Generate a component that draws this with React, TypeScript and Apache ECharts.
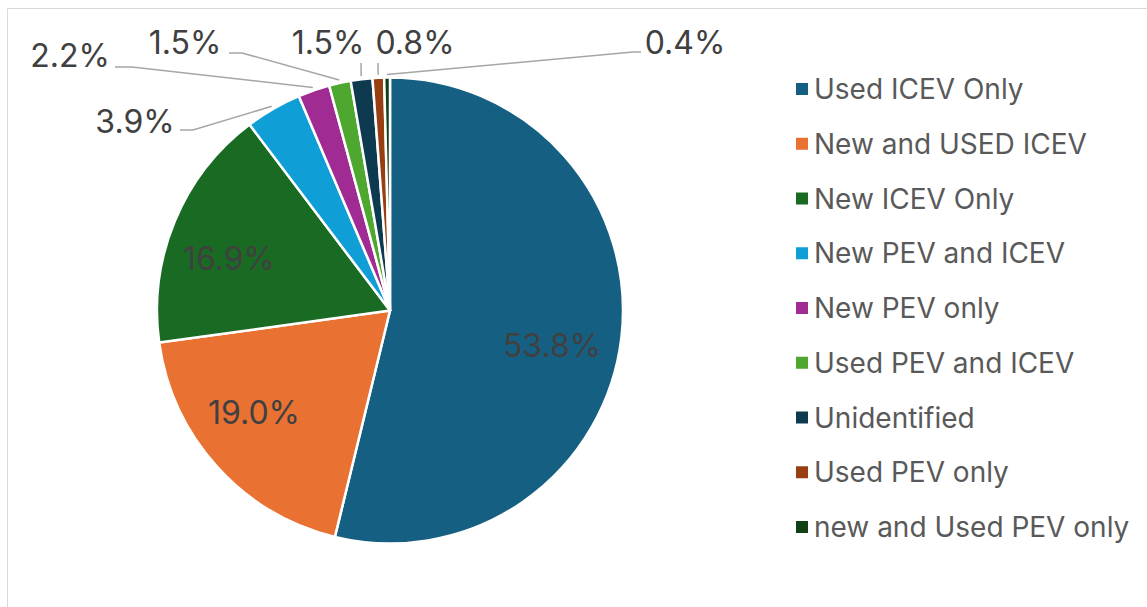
import React, { useEffect, useRef } from "react";
import * as echarts from "echarts";

const categories = [
  "Used ICEV Only",
  "New and USED ICEV",
  "New ICEV Only",
  "New PEV and ICEV",
  "New PEV only",
  "Used PEV and ICEV",
  "Unidentified",
  "Used PEV only",
  "new and Used PEV only",
];
const shares = [53.8, 19.0, 16.9, 3.9, 2.2, 1.5, 1.5, 0.8, 0.4];
const colors = [
  "#156082",
  "#E97132",
  "#196B24",
  "#0F9ED5",
  "#A02B93",
  "#4EA72E",
  "#0D3A4E",
  "#973F12",
  "#0F4016",
];

// layout constants (page pixels)
const CENTER = [390, 310.5];
const RADIUS = 233;
const LABEL_CENTERS = [
  [552, 345],
  [254, 412],
  [229, 258],
  [135, 121],
  [70, 55],
  [185, 42],
  [328, 42],
  [415, 42],
  [685, 42],
];
// [bend point, end point] of leader lines for outer labels
const LEADERS: (number[][] | null)[] = [
  null,
  null,
  null,
  [[193, 130], [180, 130]],
  [[132, 67], [115, 67]],
  [[242, 53], [229, 53]],
  [[361, 63], [361, 63]],
  [[378, 63], [378, 63]],
  [[633, 52], [641, 52]],
];
const INSIDE_COUNT = 3;

export default function App() {
  const ref = useRef<HTMLDivElement>(null);
  useEffect(() => {
    if (!ref.current) return;
    const chart = echarts.init(ref.current, null, { renderer: "svg" });
    const font = "Inter";
    chart.setOption({
      animation: false,
      backgroundColor: "#ffffff",
      graphic: [
        {
          type: "rect",
          shape: { x: 7.5, y: 8.5, width: 1300, height: 800 },
          style: { fill: "none", stroke: "#d9d9d9", lineWidth: 1 },
          silent: true,
          z: 0,
        },
      ],
      legend: {
        orient: "vertical",
        left: 789,
        top: 69,
        icon: "rect",
        itemWidth: 14,
        itemHeight: 14,
        itemGap: 24.75,
        selectedMode: false,
        data: categories,
        textStyle: {
          fontFamily: font,
          fontSize: 28,
          lineHeight: 30,
          color: "#595959",
          padding: [0, 0, 0, 0],
        },
      },
      series: [
        {
          type: "pie",
          center: CENTER,
          radius: RADIUS,
          startAngle: 90,
          clockwise: true,
          avoidLabelOverlap: false,
          silent: true,
          itemStyle: { borderColor: "#ffffff", borderWidth: 2.5 },
          label: {
            fontFamily: font,
            fontSize: 32,
            color: "#404040",
            formatter: (p: any) => p.value.toFixed(1) + "%",
          },
          labelLine: {
            show: true,
            length: 15,
            length2: 15,
            lineStyle: { color: "#a6a6a6", width: 1.5 },
          },
          labelLayout: (params: any) => {
            const i = params.dataIndex;
            const c = LABEL_CENTERS[i];
            const res: any = {
              x: c[0],
              y: c[1],
              align: "center",
              verticalAlign: "middle",
            };
            const leader = LEADERS[i];
            if (leader && params.labelLinePoints) {
              const p0 = params.labelLinePoints[0];
              const dx = p0[0] - CENTER[0];
              const dy = p0[1] - CENTER[1];
              const d = Math.hypot(dx, dy) || 1;
              const start = [
                CENTER[0] + (dx / d) * (RADIUS + 3),
                CENTER[1] + (dy / d) * (RADIUS + 3),
              ];
              res.labelLinePoints = [start, leader[0], leader[1]];
            }
            return res;
          },
          data: categories.map((name, i) => ({
            name,
            value: shares[i],
            itemStyle: { color: colors[i] },
            label: { position: i < INSIDE_COUNT ? "inside" : "outside" },
            labelLine: { show: i >= INSIDE_COUNT },
          })),
        },
      ],
    });
    return () => chart.dispose();
  }, []);
  return (
    <div
      ref={ref}
      style={{ position: "absolute", left: 0, top: 0, width: 1147, height: 607 }}
    />
  );
}
